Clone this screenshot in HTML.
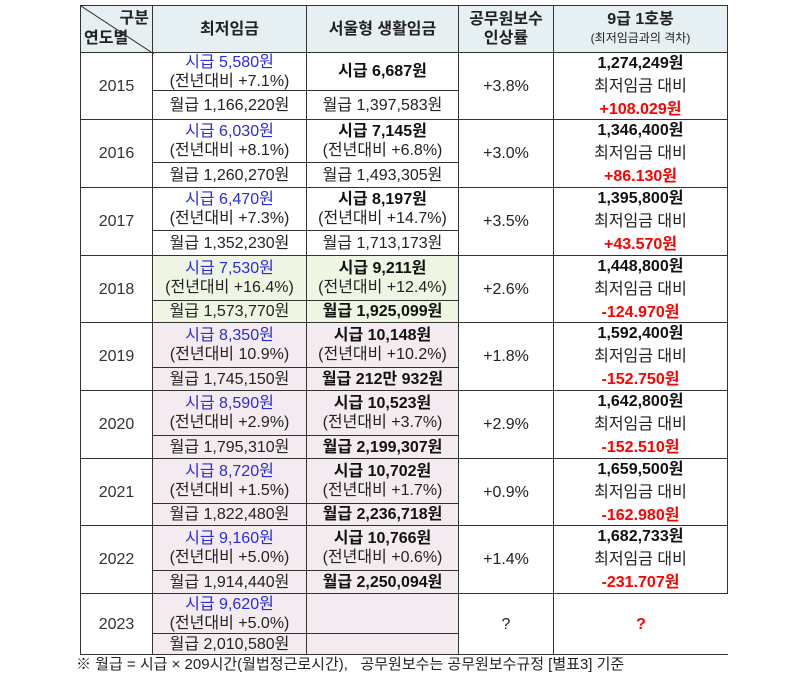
<!DOCTYPE html>
<html><head><meta charset="utf-8"><style>
body{margin:0;width:800px;height:675px;background:#fff;position:relative;overflow:hidden;font-family:"Liberation Sans","Noto Sans CJK KR",sans-serif;color:#222}
.c{position:absolute;box-sizing:border-box;border:1px solid #333;display:flex;flex-direction:column;justify-content:center;align-items:center;text-align:center;font-size:16px;line-height:19px;white-space:nowrap}
.h{background:#e6eff1;font-weight:bold;font-size:16px}
.g{background:#eef5e2}.p{background:#f4ebf0}
.b{color:#2a2ae0}.k{font-weight:bold;color:#111}.r{color:#f00;font-weight:bold}
.sm{font-size:12px;font-weight:normal}
.y{font-size:16px;color:#333}
</style></head><body>
<div class="c h" style="left:80px;top:5px;width:73px;height:48px;align-items:stretch;padding:0 3px"><div style="text-align:right;line-height:20px">구분</div><div style="text-align:left;line-height:20px">연도별</div>
<svg style="position:absolute;left:0;top:0" width="73" height="48"><line x1="0" y1="0" x2="73" y2="48" stroke="#333" stroke-width="1"/></svg></div>
<div class="c h" style="left:152px;top:5px;width:155px;height:48px">최저임금</div>
<div class="c h" style="left:306px;top:5px;width:153px;height:48px">서울형 생활임금</div>
<div class="c h" style="left:458px;top:5px;width:96px;height:48px;line-height:19px">공무원보수<br>인상률</div>
<div class="c h" style="left:553px;top:5px;width:175px;height:48px;line-height:19px">9급 1호봉<br><span class="sm">(최저임금과의 격차)</span></div>

<div class="c y" style="left:80px;top:52px;width:73px;height:68px">2015</div>
<div class="c" style="left:152px;top:52px;width:155px;height:39px"><span class="b">시급 5,580원</span><span>(전년대비 +7.1%)</span></div>
<div class="c" style="left:152px;top:90px;width:155px;height:30px">월급 1,166,220원</div>
<div class="c k" style="left:306px;top:52px;width:153px;height:39px">시급 6,687원</div>
<div class="c" style="left:306px;top:90px;width:153px;height:30px">월급 1,397,583원</div>
<div class="c" style="left:458px;top:52px;width:96px;height:68px">+3.8%</div>
<div class="c" style="left:553px;top:52px;width:175px;height:68px;line-height:23px"><span class="k">1,274,249원</span><span>최저임금 대비</span><span class="r">+108.029원</span></div>

<div class="c y" style="left:80px;top:119px;width:73px;height:69px">2016</div>
<div class="c" style="left:152px;top:119px;width:155px;height:44px"><span class="b">시급 6,030원</span><span>(전년대비 +8.1%)</span></div>
<div class="c" style="left:152px;top:162px;width:155px;height:26px">월급 1,260,270원</div>
<div class="c" style="left:306px;top:119px;width:153px;height:44px"><span class="k">시급 7,145원</span><span>(전년대비 +6.8%)</span></div>
<div class="c" style="left:306px;top:162px;width:153px;height:26px">월급 1,493,305원</div>
<div class="c" style="left:458px;top:119px;width:96px;height:69px">+3.0%</div>
<div class="c" style="left:553px;top:119px;width:175px;height:69px;line-height:23px"><span class="k">1,346,400원</span><span>최저임금 대비</span><span class="r">+86.130원</span></div>

<div class="c y" style="left:80px;top:187px;width:73px;height:69px">2017</div>
<div class="c" style="left:152px;top:187px;width:155px;height:44px"><span class="b">시급 6,470원</span><span>(전년대비 +7.3%)</span></div>
<div class="c" style="left:152px;top:230px;width:155px;height:26px">월급 1,352,230원</div>
<div class="c" style="left:306px;top:187px;width:153px;height:44px"><span class="k">시급 8,197원</span><span>(전년대비 +14.7%)</span></div>
<div class="c" style="left:306px;top:230px;width:153px;height:26px">월급 1,713,173원</div>
<div class="c" style="left:458px;top:187px;width:96px;height:69px">+3.5%</div>
<div class="c" style="left:553px;top:187px;width:175px;height:69px;line-height:23px"><span class="k">1,395,800원</span><span>최저임금 대비</span><span class="r">+43.570원</span></div>

<div class="c y" style="left:80px;top:255px;width:73px;height:68px">2018</div>
<div class="c g" style="left:152px;top:255px;width:155px;height:46px"><span class="b">시급 7,530원</span><span>(전년대비 +16.4%)</span></div>
<div class="c g" style="left:152px;top:300px;width:155px;height:23px">월급 1,573,770원</div>
<div class="c g" style="left:306px;top:255px;width:153px;height:46px"><span class="k">시급 9,211원</span><span>(전년대비 +12.4%)</span></div>
<div class="c g k" style="left:306px;top:300px;width:153px;height:23px">월급 1,925,099원</div>
<div class="c" style="left:458px;top:255px;width:96px;height:68px">+2.6%</div>
<div class="c" style="left:553px;top:255px;width:175px;height:68px;line-height:23px"><span class="k">1,448,800원</span><span>최저임금 대비</span><span class="r">-124.970원</span></div>

<div class="c y" style="left:80px;top:322px;width:73px;height:69px">2019</div>
<div class="c p" style="left:152px;top:322px;width:155px;height:46px"><span class="b">시급 8,350원</span><span>(전년대비 10.9%)</span></div>
<div class="c p" style="left:152px;top:367px;width:155px;height:24px">월급 1,745,150원</div>
<div class="c p" style="left:306px;top:322px;width:153px;height:46px"><span class="k">시급 10,148원</span><span>(전년대비 +10.2%)</span></div>
<div class="c p k" style="left:306px;top:367px;width:153px;height:24px">월급 212만 932원</div>
<div class="c" style="left:458px;top:322px;width:96px;height:69px">+1.8%</div>
<div class="c" style="left:553px;top:322px;width:175px;height:69px;line-height:23px"><span class="k">1,592,400원</span><span>최저임금 대비</span><span class="r">-152.750원</span></div>

<div class="c y" style="left:80px;top:390px;width:73px;height:69px">2020</div>
<div class="c p" style="left:152px;top:390px;width:155px;height:46px"><span class="b">시급 8,590원</span><span>(전년대비 +2.9%)</span></div>
<div class="c p" style="left:152px;top:435px;width:155px;height:24px">월급 1,795,310원</div>
<div class="c p" style="left:306px;top:390px;width:153px;height:46px"><span class="k">시급 10,523원</span><span>(전년대비 +3.7%)</span></div>
<div class="c p k" style="left:306px;top:435px;width:153px;height:24px">월급 2,199,307원</div>
<div class="c" style="left:458px;top:390px;width:96px;height:69px">+2.9%</div>
<div class="c" style="left:553px;top:390px;width:175px;height:69px;line-height:23px"><span class="k">1,642,800원</span><span>최저임금 대비</span><span class="r">-152.510원</span></div>

<div class="c y" style="left:80px;top:458px;width:73px;height:68px">2021</div>
<div class="c p" style="left:152px;top:458px;width:155px;height:46px"><span class="b">시급 8,720원</span><span>(전년대비 +1.5%)</span></div>
<div class="c p" style="left:152px;top:503px;width:155px;height:23px">월급 1,822,480원</div>
<div class="c p" style="left:306px;top:458px;width:153px;height:46px"><span class="k">시급 10,702원</span><span>(전년대비 +1.7%)</span></div>
<div class="c p k" style="left:306px;top:503px;width:153px;height:23px">월급 2,236,718원</div>
<div class="c" style="left:458px;top:458px;width:96px;height:68px">+0.9%</div>
<div class="c" style="left:553px;top:458px;width:175px;height:68px;line-height:23px"><span class="k">1,659,500원</span><span>최저임금 대비</span><span class="r">-162.980원</span></div>

<div class="c y" style="left:80px;top:525px;width:73px;height:69px">2022</div>
<div class="c p" style="left:152px;top:525px;width:155px;height:46px"><span class="b">시급 9,160원</span><span>(전년대비 +5.0%)</span></div>
<div class="c p" style="left:152px;top:570px;width:155px;height:24px">월급 1,914,440원</div>
<div class="c p" style="left:306px;top:525px;width:153px;height:46px"><span class="k">시급 10,766원</span><span>(전년대비 +0.6%)</span></div>
<div class="c p k" style="left:306px;top:570px;width:153px;height:24px">월급 2,250,094원</div>
<div class="c" style="left:458px;top:525px;width:96px;height:69px">+1.4%</div>
<div class="c" style="left:553px;top:525px;width:175px;height:69px;line-height:23px"><span class="k">1,682,733원</span><span>최저임금 대비</span><span class="r">-231.707원</span></div>

<div class="c y" style="left:80px;top:593px;width:73px;height:62px">2023</div>
<div class="c p" style="left:152px;top:593px;width:155px;height:41px"><span class="b">시급 9,620원</span><span>(전년대비 +5.0%)</span></div>
<div class="c p" style="left:152px;top:633px;width:155px;height:22px">월급 2,010,580원</div>
<div class="c p" style="left:306px;top:593px;width:153px;height:41px"></div>
<div class="c p" style="left:306px;top:633px;width:153px;height:22px"></div>
<div class="c" style="left:458px;top:593px;width:96px;height:62px">?</div>
<div class="c" style="left:553px;top:593px;width:175px;height:62px;border-right:none"><span class="r">?</span></div>

<div style="position:absolute;left:76px;top:655px;font-size:15px;line-height:20px;white-space:nowrap;color:#222">※ 월급 = 시급 × 209시간(월법정근로시간),&nbsp;&nbsp; 공무원보수는 공무원보수규정 [별표3] 기준</div>
</body></html>
